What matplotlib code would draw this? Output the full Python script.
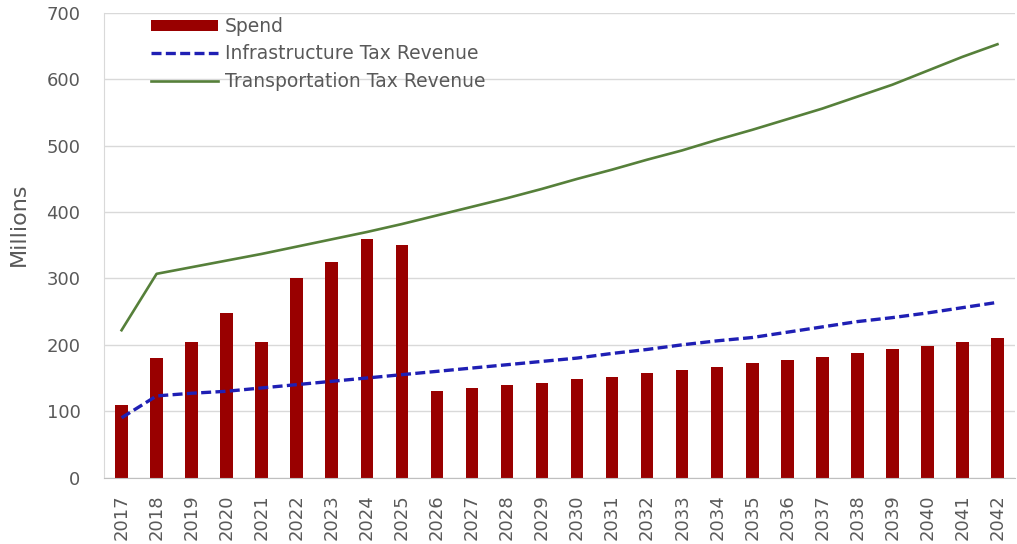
import matplotlib
matplotlib.use("Agg")
import matplotlib.pyplot as plt
import numpy as np

plt.rcParams['font.family'] = ['DejaVu Sans']

years = [str(y) for y in range(2017, 2043)]
spend = [110, 180, 205, 248, 205, 300, 325, 360, 350, 130, 135, 140, 143,
         148, 152, 157, 162, 167, 172, 177, 182, 188, 193, 198, 205, 210]
infrastructure = [90, 123, 127, 130, 135, 140, 145, 150, 155, 160, 165, 170,
                  175, 180, 187, 193, 200, 206, 211, 219, 227, 235, 241, 248,
                  256, 264]
transportation = [222, 307, 317, 327, 337, 348, 359, 370, 382, 395, 408, 421,
                  435, 450, 464, 479, 493, 509, 524, 540, 556, 574, 592, 613,
                  634, 653]
y_ticks = [0, 100, 200, 300, 400, 500, 600, 700]

text_color = '#595959'
grid_color = '#d9d9d9'

fig = plt.figure(figsize=(10.17, 5.44), dpi=100)
ax = fig.add_axes([0.1023, 0.1222, 0.8957, 0.8538])

x = np.arange(len(years))
bars = ax.bar(x, spend, width=0.36, color='#990000', label='Spend', zorder=2)
infra_line, = ax.plot(x, infrastructure, color='#1f1fb4', lw=2.4,
                      ls=(0, (3.0, 1.3)), label='Infrastructure Tax Revenue',
                      zorder=3)
trans_line, = ax.plot(x, transportation, color='#56803a', lw=1.9,
                      label='Transportation Tax Revenue', zorder=3)

ax.set_xlim(-0.5, len(years) - 0.5)
ax.set_ylim(0, 700)
ax.set_yticks(y_ticks)
ax.set_yticklabels([str(v) for v in y_ticks])
ax.set_xticks(x)
ax.set_xticklabels(years, rotation=90)

ax.grid(axis='y', color=grid_color, lw=1.0, zorder=0)
ax.set_axisbelow(True)
for side in ['top', 'right']:
    ax.spines[side].set_visible(False)
ax.spines['left'].set_color(grid_color)
ax.spines['bottom'].set_color('#bfbfbf')
ax.tick_params(axis='both', length=0, colors=text_color, labelsize=13)
ax.tick_params(axis='y', pad=17)
ax.tick_params(axis='x', pad=12)

ax.set_ylabel('Millions', fontsize=16, color=text_color)
ax.yaxis.set_label_coords(-0.082, 0.545)

leg = ax.legend(handles=[bars, infra_line, trans_line], loc='upper left',
                bbox_to_anchor=(0.043, 1.008), frameon=False,
                fontsize=13.5, handlelength=3.6, handleheight=0.5,
                handletextpad=0.35, labelspacing=0.45, borderpad=0.4,
                borderaxespad=0)
for t in leg.get_texts():
    t.set_color(text_color)

fig.savefig('out.png', dpi=100, facecolor='white')
